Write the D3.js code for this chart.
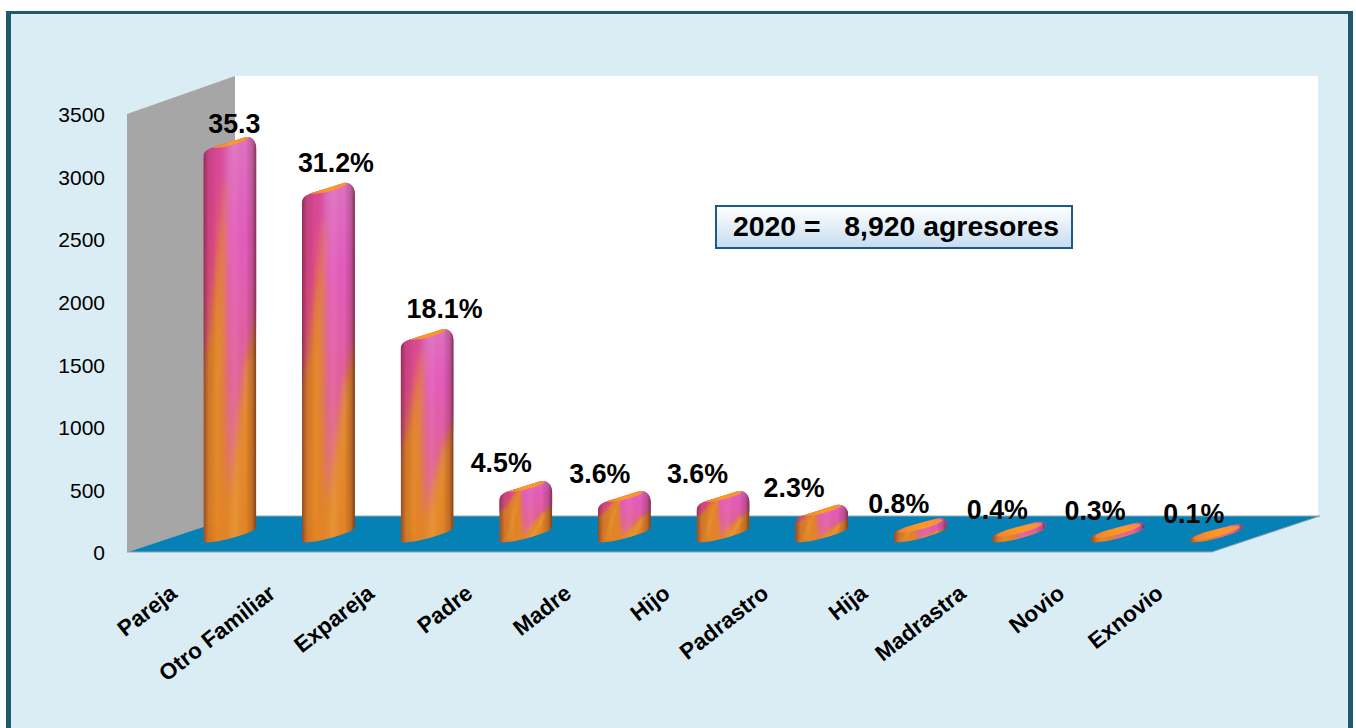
<!DOCTYPE html>
<html lang="en">

<head>
    <meta charset="UTF-8">
    <title>Agresores 2020</title>
    <script src="https://d3js.org/d3.v7.min.js"></script>
    <style>
        html, body { margin: 0; padding: 0; background: #fff; }
        svg { display: block; }
        text { font-family: "Liberation Sans", Arial, sans-serif; fill: #000; }
    </style>
</head>

<body>
    <svg id="chart" width="1356" height="728"></svg>

    <script>
        // Values
        const categories = ["Pareja", "Otro Familiar", "Expareja", "Padre", "Madre", "Hijo", "Padrastro", "Hija", "Madrastra", "Novio", "Exnovio"];
        const agresores = [3149, 2783, 1615, 401, 321, 321, 205, 71, 36, 27, 9];
        const labels = ["35.3", "31.2%", "18.1%", "4.5%", "3.6%", "3.6%", "2.3%", "0.8%", "0.4%", "0.3%", "0.1%"];
        const yTicks = [0, 500, 1000, 1500, 2000, 2500, 3000, 3500];
        const boxText = "2020 =   8,920 agresores";

        // The percent labels were placed by hand in the original
        const labelShiftX = [4, 7, 17, -25, -25, -26, -28, -22, -22, -23, -23];
        const labelShiftY = [-7, -14, -14, -12, -11, -11, -11, -12, -10, -11, -10];

        const svg = d3.select("#chart");
        const defs = svg.append("defs");

        // 3D box: front axis plane plus a depth offset
        const plot = { left: 127, right: 1212, top: 114, bottom: 552 };
        const depth = { x: 108, y: -36 };

        const x = d3.scaleBand().domain(categories).range([plot.left, plot.right]);
        const y = d3.scaleLinear().domain([0, 3500]).range([plot.bottom, plot.top]);

        // Frame, open at the bottom of the window
        svg.append("rect")
            .attr("x", 6).attr("y", 11)
            .attr("width", 1347).attr("height", 730)
            .attr("fill", "#1f5a6b");
        svg.append("rect")
            .attr("x", 11).attr("y", 14)
            .attr("width", 1337).attr("height", 730)
            .attr("fill", "#dbedf4");

        // Back wall, side wall, floor
        const wallTop = plot.top + depth.y - 2;
        svg.append("rect")
            .attr("x", plot.left + depth.x).attr("y", wallTop)
            .attr("width", plot.right - plot.left - 2)
            .attr("height", plot.bottom + depth.y - wallTop)
            .attr("fill", "#ffffff");

        const poly = d3.line();
        svg.append("path")
            .attr("d", poly([
                [plot.left, plot.top], [plot.left + depth.x, wallTop],
                [plot.left + depth.x, plot.bottom + depth.y], [plot.left, plot.bottom]
            ]) + "Z")
            .attr("fill", "#a6a6a6");

        svg.append("path")
            .attr("d", poly([
                [plot.left, plot.bottom], [plot.left + depth.x, plot.bottom + depth.y],
                [plot.right + depth.x, plot.bottom + depth.y], [plot.right, plot.bottom]
            ]) + "Z")
            .attr("fill", "#0681b5")
            .attr("stroke", "#9aa6ad")
            .attr("stroke-width", 1);

        // Gradients for the bars
        function gradient(id, x2, y2, stops) {
            const g = defs.append("linearGradient")
                .attr("id", id)
                .attr("x1", 0).attr("y1", 0).attr("x2", x2).attr("y2", y2);
            stops.forEach(s => g.append("stop")
                .attr("offset", s[0])
                .attr("stop-color", s[1])
                .attr("stop-opacity", s[2] === undefined ? 1 : s[2]));
        }
        gradient("orangeBody", 0, 1, [[0, "#e0703a"], [0.5, "#e2842c"], [1, "#e48526"]]);
        gradient("pinkLeft", 0, 1, [[0, "#d2479a"], [0.5, "#e04a8c"], [1, "#e0607a"]]);
        gradient("pinkRight", 0, 1, [[0, "#dc7cc4"], [0.35, "#e45cbc"], [0.7, "#e2609a"], [1, "#e2707a"]]);
        gradient("shade", 1, 0, [
            [0, "#4c1a30", 0.55], [0.1, "#5b1f20", 0.14], [0.25, "#000", 0], [0.6, "#fff", 0.06],
            [0.8, "#000", 0], [0.92, "#4c1a20", 0.22], [1, "#3c1510", 0.62]
        ]);
        gradient("cap", 1, 0, [[0, "#f28040"], [0.5, "#ff9a1e"], [1, "#f4903a"]]);
        gradient("boxFill", 0, 1, [[0, "#ffffff"], [1, "#c6dcef"]]);

        defs.append("filter").attr("id", "softTall")
            .attr("x", "-30%").attr("y", "-10%").attr("width", "160%").attr("height", "120%")
            .append("feGaussianBlur").attr("stdDeviation", 3.5);
        defs.append("filter").attr("id", "softShort")
            .attr("x", "-30%").attr("y", "-30%").attr("width", "160%").attr("height", "160%")
            .append("feGaussianBlur").attr("stdDeviation", 0.8);

        // Bars: a cylinder with a tilted ellipse at the foot and a rounded head
        const barWidth = 53;
        const tilt = 14;
        const minor = 4.5;
        const rx = Math.hypot(barWidth, tilt) / 2;
        const angle = -Math.atan2(tilt, barWidth) * 180 / Math.PI;

        function outlinePath(top, base) {
            // k = 1 for a full rounded head, falling to 0 on the flat bars
            const k = Math.min(1, (base - top) / 30);
            const a = top + tilt / 2 + 11 * k;
            const q1 = top + 6 * k - 0.5 * (1 - k);
            const q2 = top - 2.5 * k - 7.5 * (1 - k);
            const b = top - tilt / 2 + 16 * k;
            return `M0,${base + tilt / 2}L0,${a}`
                + `C0,${a - 2 - 6 * k} 6,${q1 + 2.5} 14,${q1}`
                + `L41,${q2}`
                + `C48,${q2 - 2} ${barWidth},${b - 2 - 6 * k} ${barWidth},${b}`
                + `L${barWidth},${base - tilt / 2}`
                + `A${rx},${minor} ${angle} 0 1 0,${base + tilt / 2}Z`;
        }

        const bars = svg.selectAll("g.bar")
            .data(categories)
            .join("g")
            .attr("class", "bar")
            .attr("transform", d => `translate(${x(d) + x.bandwidth() / 2 + depth.x / 2 - barWidth / 2 - 0.5},0)`);

        bars.each(function (d, i) {
            const g = d3.select(this);
            const base = y(0) + depth.y / 2;
            const top = y(agresores[i]) + depth.y / 2;
            const h = base - top;
            const k = Math.min(1, h / 30);
            const clipId = "clip" + i;
            defs.append("clipPath").attr("id", clipId).append("path").attr("d", outlinePath(top, base));

            // local scales: across and down the bar
            const u = d3.scaleLinear().domain([0, 1]).range([0, barWidth]);
            const v = d3.scaleLinear().domain([0, 1]).range([top - 8, base + 8]);
            const face = pts => poly(pts.map(p => [u(p[0]), v(p[1])])) + "Z";

            const body = g.append("g").attr("clip-path", `url(#${clipId})`);
            body.append("rect")
                .attr("x", 0).attr("y", top - 10)
                .attr("width", barWidth).attr("height", h + 24)
                .attr("fill", "url(#orangeBody)");

            const soft = body.append("g")
                .attr("filter", h > 60 ? "url(#softTall)" : "url(#softShort)");
            soft.append("path")
                .attr("d", face([[-0.2, -0.1], [0.42, -0.1], [0.42, 0.1], [0.12, 0.48], [-0.2, 0.68]]))
                .attr("fill", "url(#pinkLeft)");
            soft.append("path")
                .attr("d", face([[0.42, -0.1], [1.2, -0.1], [1.2, 0.36], [0.8, 0.56], [0.46, 0.9], [0.42, 0.62]]))
                .attr("fill", "url(#pinkRight)");
            soft.append("path")
                .attr("d", face([[0.4, 0.12], [0.44, 0.12], [0.2, 0.96], [0.12, 0.96]]))
                .attr("fill", "#f0a030")
                .attr("opacity", 0.4);
            soft.append("path")
                .attr("d", face([[0.84, 0.56], [0.9, 0.56], [0.62, 1], [0.54, 1]]))
                .attr("fill", "#f2a438")
                .attr("opacity", 0.55);

            body.append("rect")
                .attr("x", 0).attr("y", top - 10)
                .attr("width", barWidth).attr("height", h + 24)
                .attr("fill", "url(#shade)");

            // orange sliver on the head, most of the surface on the flat bars
            const capX = 27;
            const capY = top + 2.6 - 2.6 * (1 - k);
            body.append("ellipse")
                .attr("cx", capX).attr("cy", capY)
                .attr("rx", 19 + 5 * (1 - k)).attr("ry", 2.8 + 0.6 * (1 - k))
                .attr("transform", `rotate(${angle} ${capX} ${capY})`)
                .attr("fill", "url(#cap)");
        });

        // Y axis
        svg.append("g")
            .attr("transform", `translate(${plot.left},1)`)
            .call(d3.axisLeft(y).tickValues(yTicks).tickSize(0).tickPadding(22).tickFormat(d3.format("d")))
            .call(a => a.select(".domain").remove())
            .call(a => a.selectAll("text")
                .style("font-family", '"Liberation Sans", Arial, sans-serif')
                .style("font-size", "21px"));

        // Category labels
        svg.append("g").selectAll("text")
            .data(categories)
            .join("text")
            .attr("transform", d => `translate(${x(d) + x.bandwidth() / 2 + 2},${plot.bottom + 44}) rotate(-38)`)
            .attr("text-anchor", "end")
            .style("font-size", "22.5px")
            .style("font-weight", "bold")
            .text(d => d);

        // Percent labels
        svg.append("g").selectAll("text")
            .data(categories)
            .join("text")
            .attr("x", (d, i) => x(d) + x.bandwidth() / 2 + depth.x / 2 + labelShiftX[i])
            .attr("y", (d, i) => y(agresores[i]) + depth.y / 2 + labelShiftY[i])
            .attr("text-anchor", "middle")
            .style("font-size", "26.8px")
            .style("font-weight", "bold")
            .text((d, i) => labels[i]);

        // Total box
        svg.append("rect")
            .attr("x", 716).attr("y", 206)
            .attr("width", 356).attr("height", 42)
            .attr("fill", "url(#boxFill)")
            .attr("stroke", "#1c5a8a")
            .attr("stroke-width", 2);
        svg.append("text")
            .attr("x", 733).attr("y", 236)
            .style("white-space", "pre")
            .style("font-size", "28.4px")
            .style("font-weight", "bold")
            .text(boxText);
    </script>
</body>

</html>
